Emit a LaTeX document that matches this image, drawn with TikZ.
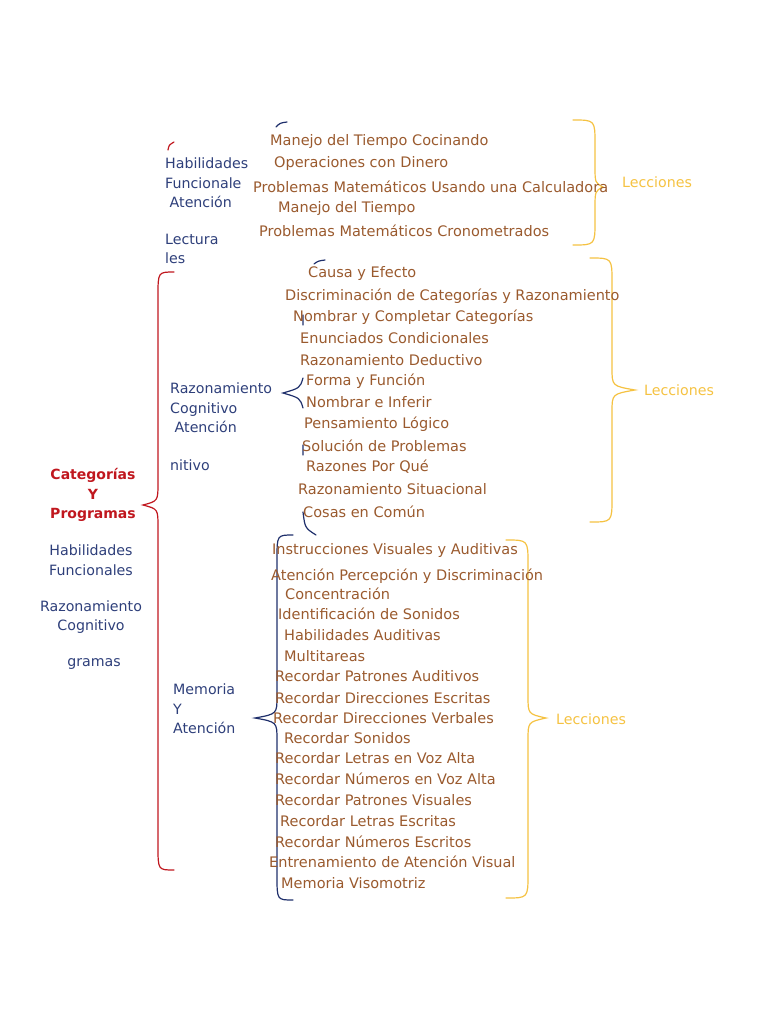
\documentclass[tikz,border=0pt]{standalone}
\usepackage{fontspec}
\setmainfont{DejaVu Sans}
\definecolor{itemtxt}{HTML}{9A5A2E}
\definecolor{cattxt}{HTML}{2E3F7A}
\definecolor{redline}{HTML}{C0171E}
\definecolor{navyline}{HTML}{1F2F6B}
\definecolor{goldline}{HTML}{F5C242}
% left-opening curly brace: x, top, bottom, tip x, tip y
\newcommand\curlyL[5]{%
  (#1+16,#2) .. controls (#1,#2) .. (#1,#2+24) -- (#1,#5-22)
  .. controls (#1,#5-4) .. (#4,#5) .. controls (#1,#5+4) .. (#1,#5+22)
  -- (#1,#3-24) .. controls (#1,#3) .. (#1+16,#3)}
% right-opening curly brace
\newcommand\curlyR[5]{%
  (#1-22,#2) .. controls (#1,#2) .. (#1,#2+24) -- (#1,#5-22)
  .. controls (#1,#5-4) .. (#4,#5) .. controls (#1,#5+4) .. (#1,#5+22)
  -- (#1,#3-24) .. controls (#1,#3) .. (#1-22,#3)}
\begin{document}
\begin{tikzpicture}[x=1pt,y=-1pt,
    item/.style={anchor=west,text=itemtxt,font=\fontsize{14.5}{19}\selectfont,inner sep=0pt},
    cat/.style={anchor=west,text=cattxt,font=\fontsize{14.2}{19.5}\selectfont,align=left,inner sep=0pt},
    lec/.style={anchor=west,text=goldline,font=\fontsize{14.2}{19}\selectfont,inner sep=0pt},
    thin line/.style={line width=1.2pt,line cap=round}]
  \useasboundingbox (0,0) rectangle (768,1024);

  % Root
  \node[text=redline,font=\fontsize{14}{19.5}\selectfont\bfseries,align=center] (root) at (93,495) {Categorías\\Y\\Programas};
  \node[text=cattxt,font=\fontsize{14.2}{19.5}\selectfont,align=center] (hf) at (91,560) {Habilidades\\Funcionales};
  \node[text=cattxt,font=\fontsize{14.2}{19.5}\selectfont,align=center] (rc) at (91,617) {Razonamiento\\Cognitivo};
  \node[text=cattxt,font=\fontsize{14.2}{19.5}\selectfont] (gr) at (94,664) {gramas};

  % Categories
  \node[cat] (habil) at (165,183) {Habilidades\\Funcionale\\\ Atención};
  \node[cat] (lect) at (165,249) {Lectura\\les};
  \node[cat] (razon) at (170,408) {Razonamiento\\Cognitivo\\\ Atención};
  \node[cat] (nit) at (170,465) {nitivo};
  \node[cat] (memo) at (173,709) {Memoria\\Y\\Atención};

  % Braces
  \draw[redline,thin line] \curlyL{158}{272}{870}{143}{505};
  \draw[redline,thin line] (174,142) .. controls (169,145) .. (168,150);
  \draw[navyline,thin line] (287,122) .. controls (280,123) .. (276,127);
  \draw[navyline,thin line] (325,260) .. controls (318,261) .. (314,264);
  \draw[navyline,thin line] (303,315) -- (303,325) (303,378) .. controls (300,388) .. (283,393)
    .. controls (300,398) .. (303,408) (303,445) -- (303,455);
  \draw[navyline,thin line] (303,512) .. controls (305,528) .. (316,535);
  \draw[navyline,thin line] \curlyL{277}{535}{900}{255}{718};
  \draw[goldline,thin line] \curlyR{595}{120}{245}{603}{187};
  \draw[goldline,thin line] \curlyR{612}{258}{522}{635}{390};
  \draw[goldline,thin line] \curlyR{528}{540}{898}{546}{718};

  \node[lec] (lec1) at (622,182) {Lecciones};
  \node[lec] (lec2) at (644,390) {Lecciones};
  \node[lec] (lec3) at (556,719) {Lecciones};

  % Habilidades Funcionales
  \node[item] (h1) at (270,142) {Manejo del Tiempo Cocinando};
  \node[item] (h2) at (274,164) {Operaciones con Dinero};
  \node[item] (h3) at (253,187) {Problemas Matemáticos Usando una Calculadora};
  \node[item] (h4) at (278,209) {Manejo del Tiempo};
  \node[item] (h5) at (259,231) {Problemas Matemáticos Cronometrados};

  % Razonamiento Cognitivo
  \node[item] (r1) at (308,273) {Causa y Efecto};
  \node[item] (r2) at (285,296) {Discriminación de Categorías y Razonamiento};
  \node[item] (r3) at (293,317) {Nombrar y Completar Categorías};
  \node[item] (r4) at (300,338) {Enunciados Condicionales};
  \node[item] (r5) at (300,360) {Razonamiento Deductivo};
  \node[item] (r6) at (306,381) {Forma y Función};
  \node[item] (r7) at (306,402) {Nombrar e Inferir};
  \node[item] (r8) at (304,424) {Pensamiento Lógico};
  \node[item] (r9) at (302,446) {Solución de Problemas};
  \node[item] (r10) at (306,467) {Razones Por Qué};
  \node[item] (r11) at (298,489) {Razonamiento Situacional};
  \node[item] (r12) at (303,512) {Cosas en Común};

  % Memoria y Atencion
  \node[item] (m1) at (272,550) {Instrucciones Visuales y Auditivas};
  \node[item] (m2) at (271,576) {Atención Percepción y Discriminación};
  \node[item] (m3) at (285,594) {Concentración};
  \node[item] (m4) at (278,614) {Identificación de Sonidos};
  \node[item] (m5) at (284,635) {Habilidades Auditivas};
  \node[item] (m6) at (284,656) {Multitareas};
  \node[item] (m7) at (275,676) {Recordar Patrones Auditivos};
  \node[item] (m8) at (275,698) {Recordar Direcciones Escritas};
  \node[item] (m9) at (273,718) {Recordar Direcciones Verbales};
  \node[item] (m10) at (284,738) {Recordar Sonidos};
  \node[item] (m11) at (275,758) {Recordar Letras en Voz Alta};
  \node[item] (m12) at (275,779) {Recordar Números en Voz Alta};
  \node[item] (m13) at (275,800) {Recordar Patrones Visuales};
  \node[item] (m14) at (280,821) {Recordar Letras Escritas};
  \node[item] (m15) at (275,842) {Recordar Números Escritos};
  \node[item] (m16) at (269,862) {Entrenamiento de Atención Visual};
  \node[item] (m17) at (281,883) {Memoria Visomotriz};
\end{tikzpicture}
\end{document}
